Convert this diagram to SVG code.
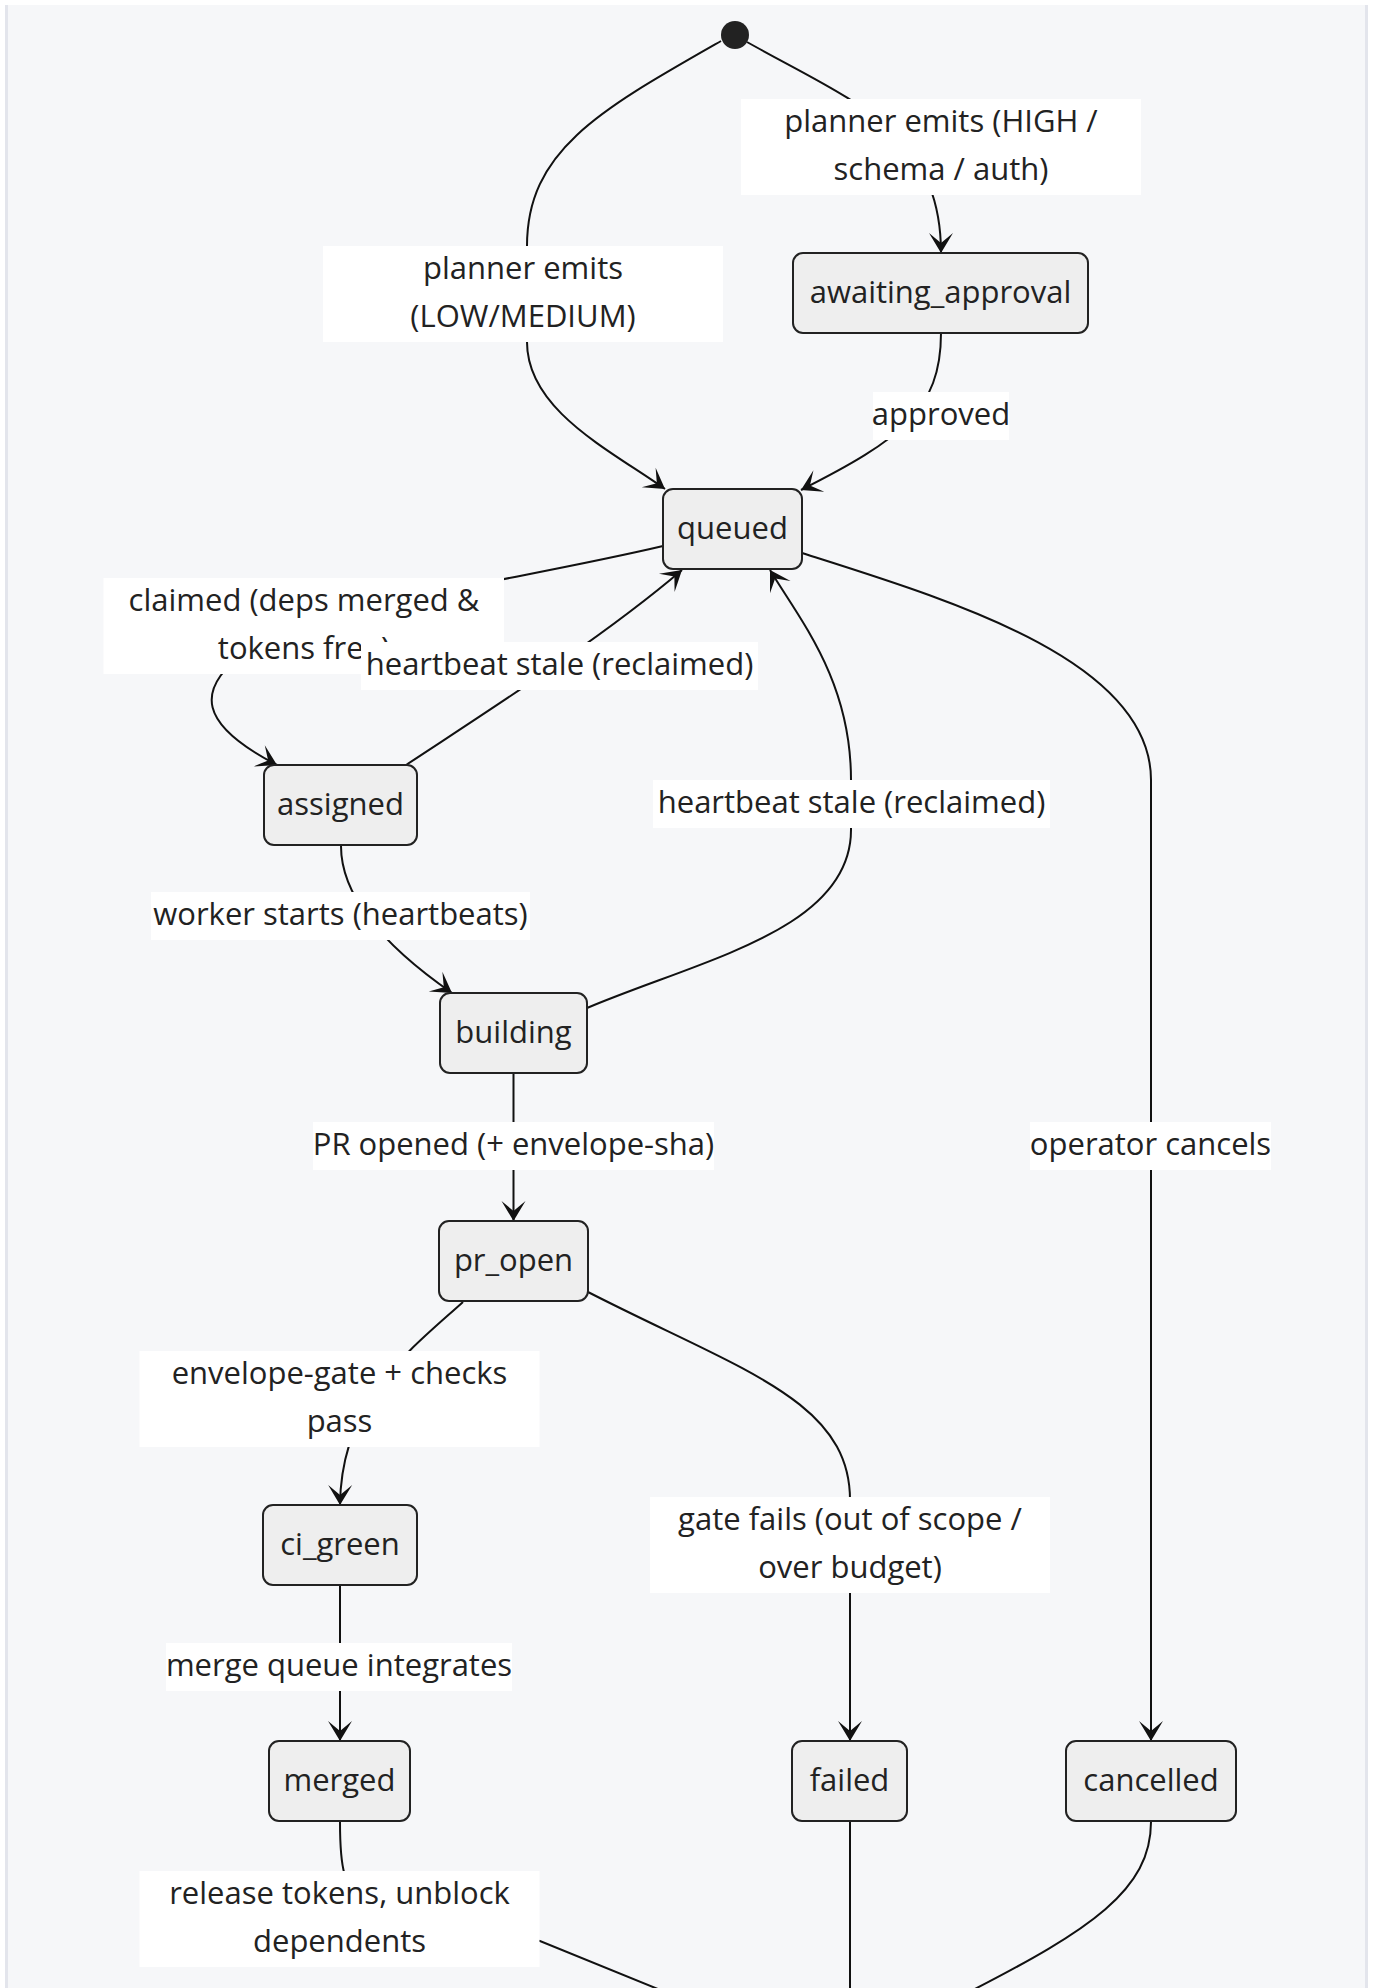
<svg xmlns="http://www.w3.org/2000/svg" width="1378" height="1988" viewBox="0 0 1378 1988">
  <style>
    .node rect { fill: #eeeeee; stroke: #222222; stroke-width: 2; }
    .node text, .label text { font-family: "Open Sans", "Noto Sans", "DejaVu Sans", sans-serif; font-size: 31px; fill: #222222; text-anchor: middle; }
    .label rect { fill: #ffffff; }
    .edge { fill: none; stroke: #111111; stroke-width: 2; }
    .arrow { marker-end: url(#barb); }
  </style>
  <defs>
    <marker id="barb" viewBox="0 0 20 14" markerWidth="40" markerHeight="28" refX="19" refY="7" markerUnits="userSpaceOnUse" orient="auto">
      <path d="M19,7 L9,13 L14,7 L9,1 Z" fill="#111111"/>
    </marker>
  </defs>

  <!-- page panel -->
  <rect x="5" y="5" width="1363" height="2000" fill="#f6f7f9"/>
  <rect x="5" y="5" width="3" height="2000" fill="#e3e5ec"/>
  <rect x="1365" y="5" width="3" height="2000" fill="#e3e5ec"/>

  <!-- transitions -->
  <g id="connectors">
    <path id="e-start-awaiting" class="edge arrow" d="M 747 42 C 850 100, 941 130, 941 253"/>
    <path id="e-start-queued" class="edge arrow" d="M 721 41 C 600 110, 527 150, 527 246 L 527 342 C 527 410, 610 450, 665 489"/>
    <path id="e-awaiting-queued" class="edge arrow" d="M 941 333 C 941 410, 900 440, 801 490"/>
    <path id="e-queued-assigned" class="edge arrow" d="M 663 546 C 520 580, 300 610, 248 650 C 192 690, 200 725, 277 765"/>
    <path id="e-assigned-queued" class="edge arrow" d="M 406 765 C 480 716, 600 640, 682 570"/>
    <path id="e-building-queued" class="edge arrow" d="M 587 1008 C 700 960, 851 930, 851 830 L 851 780 C 851 680, 800 620, 770 570"/>
    <path id="e-queued-cancelled" class="edge arrow" d="M 802 553 C 950 600, 1151 660, 1151 780 L 1151 1741"/>
    <path id="e-assigned-building" class="edge arrow" d="M 341 846 C 341 900, 390 950, 452 993"/>
    <path id="e-building-propen" class="edge arrow" d="M 513.5 1074 L 513.5 1221"/>
    <path id="e-propen-cigreen" class="edge arrow" d="M 463 1302 C 410 1350, 341 1400, 340 1505"/>
    <path id="e-propen-failed" class="edge arrow" d="M 588 1292 C 740 1370, 850 1400, 850 1500 L 850 1741"/>
    <path id="e-cigreen-merged" class="edge arrow" d="M 340 1586 L 340 1741"/>
    <path id="e-merged-end" class="edge" d="M 340 1822 C 340 1910, 350 1915, 540 1941 L 680 1998"/>
    <path id="e-failed-end" class="edge" d="M 850 1822 L 850 1995"/>
    <path id="e-cancelled-end" class="edge" d="M 1151 1822 C 1151 1890, 1090 1930, 969 1992"/>
  </g>

  <!-- transition labels -->
  <g id="edge-labels">
    <g id="lbl-high" class="label">
      <rect x="741" y="99" width="400" height="96"/>
      <text x="941" y="132">planner emits (HIGH /</text>
      <text x="941" y="180">schema / auth)</text>
    </g>
    <g id="lbl-low" class="label">
      <rect x="323" y="246" width="400" height="96"/>
      <text x="523" y="279">planner emits</text>
      <text x="523" y="327">(LOW/MEDIUM)</text>
    </g>
    <g id="lbl-approved" class="label">
      <rect x="873" y="392" width="136" height="48"/>
      <text x="941" y="425">approved</text>
    </g>
    <g id="lbl-claimed" class="label">
      <rect x="103.5" y="578" width="400.5" height="96"/>
      <text x="304" y="611">claimed (deps merged &amp;</text>
      <text x="304" y="659">tokens free)</text>
    </g>
    <g id="lbl-stale-assigned" class="label">
      <rect x="361" y="642" width="397" height="48"/>
      <text x="559.5" y="675">heartbeat stale (reclaimed)</text>
    </g>
    <g id="lbl-stale-building" class="label">
      <rect x="653" y="780" width="397" height="48"/>
      <text x="851.5" y="813">heartbeat stale (reclaimed)</text>
    </g>
    <g id="lbl-worker" class="label">
      <rect x="151" y="892" width="379" height="48"/>
      <text x="340.5" y="925">worker starts (heartbeats)</text>
    </g>
    <g id="lbl-pr" class="label">
      <rect x="313" y="1122" width="401" height="48"/>
      <text x="513.5" y="1155">PR opened (+ envelope-sha)</text>
    </g>
    <g id="lbl-cancel" class="label">
      <rect x="1030" y="1122" width="241" height="48"/>
      <text x="1150.5" y="1155">operator cancels</text>
    </g>
    <g id="lbl-gate-pass" class="label">
      <rect x="139.5" y="1351" width="400" height="96"/>
      <text x="339.5" y="1384">envelope-gate + checks</text>
      <text x="339.5" y="1432">pass</text>
    </g>
    <g id="lbl-gate-fail" class="label">
      <rect x="650" y="1497" width="400" height="96"/>
      <text x="850" y="1530">gate fails (out of scope /</text>
      <text x="850" y="1578">over budget)</text>
    </g>
    <g id="lbl-merge-queue" class="label">
      <rect x="166" y="1643" width="346" height="48"/>
      <text x="339" y="1676">merge queue integrates</text>
    </g>
    <g id="lbl-release" class="label">
      <rect x="139.5" y="1871" width="400" height="96"/>
      <text x="339.5" y="1904">release tokens, unblock</text>
      <text x="339.5" y="1952">dependents</text>
    </g>
  </g>

  <!-- states -->
  <g id="start" class="node">
    <circle cx="735" cy="35" r="14" fill="#222222"/>
  </g>
  <g id="awaiting_approval" class="node">
    <rect x="793" y="253" width="295" height="80" rx="10"/>
    <text x="940.5" y="303">awaiting_approval</text>
  </g>
  <g id="queued" class="node">
    <rect x="663" y="489" width="139" height="80" rx="10"/>
    <text x="732.5" y="539">queued</text>
  </g>
  <g id="assigned" class="node">
    <rect x="264" y="765" width="153" height="80" rx="10"/>
    <text x="340.5" y="815">assigned</text>
  </g>
  <g id="building" class="node">
    <rect x="440" y="993" width="147" height="80" rx="10"/>
    <text x="513.5" y="1043">building</text>
  </g>
  <g id="pr_open" class="node">
    <rect x="439" y="1221" width="149" height="80" rx="10"/>
    <text x="513.5" y="1271">pr_open</text>
  </g>
  <g id="ci_green" class="node">
    <rect x="263" y="1505" width="154" height="80" rx="10"/>
    <text x="340" y="1555">ci_green</text>
  </g>
  <g id="merged" class="node">
    <rect x="269" y="1741" width="141" height="80" rx="10"/>
    <text x="339.5" y="1791">merged</text>
  </g>
  <g id="failed" class="node">
    <rect x="792" y="1741" width="115" height="80" rx="10"/>
    <text x="849.5" y="1791">failed</text>
  </g>
  <g id="cancelled" class="node">
    <rect x="1066" y="1741" width="170" height="80" rx="10"/>
    <text x="1151" y="1791">cancelled</text>
  </g>
</svg>
